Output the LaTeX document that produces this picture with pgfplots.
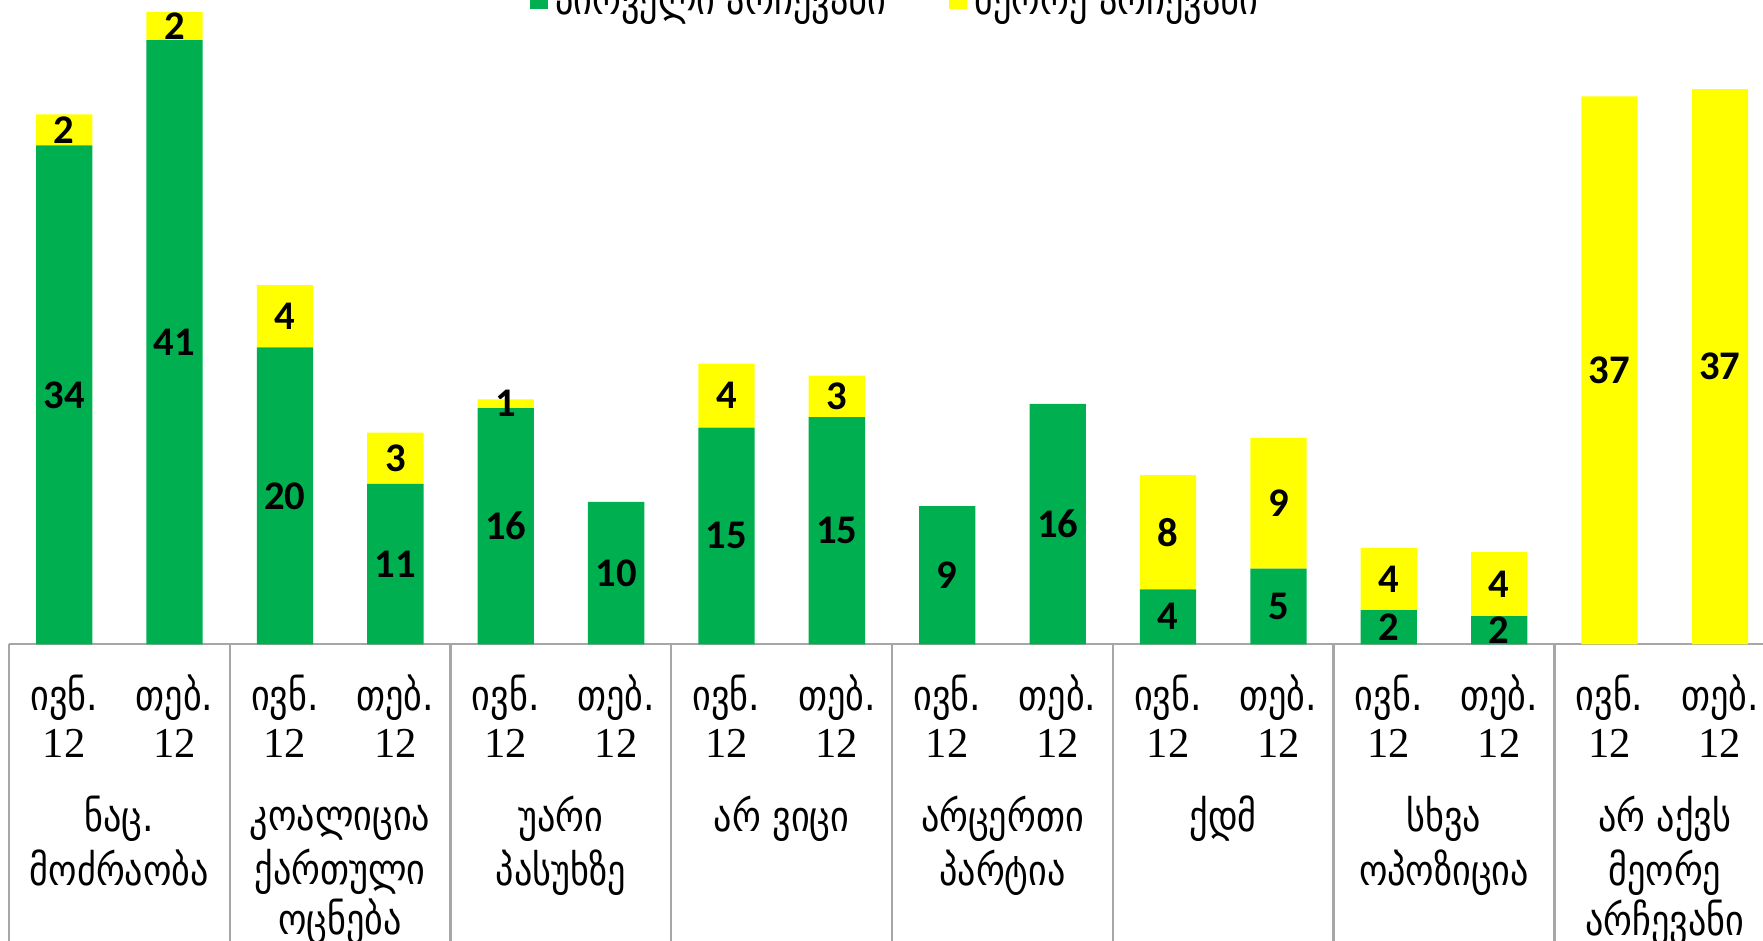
\documentclass[border=0pt]{standalone}
\usepackage{pgfplots}
\usepackage{pgfplotstable}
\pgfplotsset{compat=1.18}
\usepackage{fontspec}
\setmainfont{Liberation Serif}
\newfontfamily\geo[FakeStretch=0.85]{DejaVu Sans}
\newfontfamily\lbl{Carlito}

\definecolor{pgreen}{HTML}{00B050}
\definecolor{pyellow}{HTML}{FFFF00}
\definecolor{linegray}{HTML}{A6A6A6}

% bar position, first choice, second choice
\pgfplotstableread{
x  first second
0  33.6  2.1
1  40.7  1.9
2  20.0  4.2
3  10.8  3.45
4  15.9  0.6
5  9.6   0
6  14.6  4.3
7  15.3  2.8
8  9.3   0
9  16.2  0
10 3.7   7.7
11 5.1   8.8
12 2.3   4.2
13 1.9   4.3
14 0     36.9
15 0     37.4
}\choices

\newcommand{\iv}{\strut{\geo ივნ.}\\12}
\newcommand{\te}{\strut{\geo თებ.}\\12}

\tikzset{catlabel/.style={anchor=north, align=center, inner sep=0pt, yshift=-39pt,
  font=\fontsize{11}{12.8}\selectfont\geo},
  divider/.style={linegray, line width=0.6pt}}

\begin{document}
\begin{tikzpicture}
\begin{axis}[
  name=ax,
  x=1.002cm, y=0.13475cm,
  xmin=-0.5, xmax=15.39, ymin=0, ymax=43.4,
  ybar stacked, bar width=0.511cm,
  axis x line=bottom, axis y line=none,
  x axis line style={-, draw=linegray, line width=0.6pt},
  xtick={0,...,15},
  xticklabels={\iv,\te,\iv,\te,\iv,\te,\iv,\te,\iv,\te,\iv,\te,\iv,\te,\iv,\te},
  major tick length=0pt,
  xticklabel style={align=center, anchor=north, inner sep=0pt, yshift=-7.75pt,
    font=\fontsize{11}{12.2}\selectfont},
  clip=false,
  nodes near coords={\pgfmathfloatifflags{\pgfplotspointmeta}{0}{}{\pgfmathprintnumber[fixed,precision=0,assume math mode=true]{\pgfplotspointmeta}}},
  every node near coord/.append style={anchor=center, inner sep=0pt,
    font=\fontsize{10.5}{12}\selectfont\lbl\bfseries},
  legend columns=2,
  legend style={draw=none, fill=none, at={(0.5067,1)}, anchor=center,
    font=\fontsize{11}{13}\selectfont\geo,
    /tikz/every even column/.append style={column sep=0.5cm}},
  legend image code/.code={\fill[#1,draw=none] (0cm,-0.082cm) rectangle (0.164cm,0.082cm);},
]
\addplot[fill=pgreen, draw=none, point meta=\thisrow{first}] table[x=x, y=first]{\choices};
\addplot[fill=pyellow, draw=none, point meta=\thisrow{second}] table[x=x, y=second]{\choices};
\legend{პირველი არჩევანი, მეორე არჩევანი}

\draw[divider] (axis cs:-0.5,0) -- ([yshift=-2.69cm]axis cs:-0.5,0);
\draw[divider] (axis cs:1.5,0) -- ([yshift=-2.69cm]axis cs:1.5,0);
\draw[divider] (axis cs:3.5,0) -- ([yshift=-2.69cm]axis cs:3.5,0);
\draw[divider] (axis cs:5.5,0) -- ([yshift=-2.69cm]axis cs:5.5,0);
\draw[divider] (axis cs:7.5,0) -- ([yshift=-2.69cm]axis cs:7.5,0);
\draw[divider] (axis cs:9.5,0) -- ([yshift=-2.69cm]axis cs:9.5,0);
\draw[divider] (axis cs:11.5,0) -- ([yshift=-2.69cm]axis cs:11.5,0);
\draw[divider] (axis cs:13.5,0) -- ([yshift=-2.69cm]axis cs:13.5,0);

\node[catlabel] at (axis cs:0.5,0) {\strut ნაც.\\მოძრაობა};
\node[catlabel] at (axis cs:2.5,0) {\strut კოალიცია\\ქართული\\ოცნება};
\node[catlabel] at (axis cs:4.5,0) {\strut უარი\\პასუხზე};
\node[catlabel] at (axis cs:6.5,0) {\strut არ ვიცი};
\node[catlabel] at (axis cs:8.5,0) {\strut არცერთი\\პარტია};
\node[catlabel] at (axis cs:10.5,0) {\strut ქდმ};
\node[catlabel] at (axis cs:12.5,0) {\strut სხვა\\ოპოზიცია};
\node[catlabel] at (axis cs:14.5,0) {\strut არ აქვს\\მეორე\\არჩევანი};
\end{axis}
\pgfresetboundingbox
\path ([xshift=-0.0818cm, yshift=-2.69cm]ax.south west) rectangle (ax.north east);
\end{tikzpicture}
\end{document}
